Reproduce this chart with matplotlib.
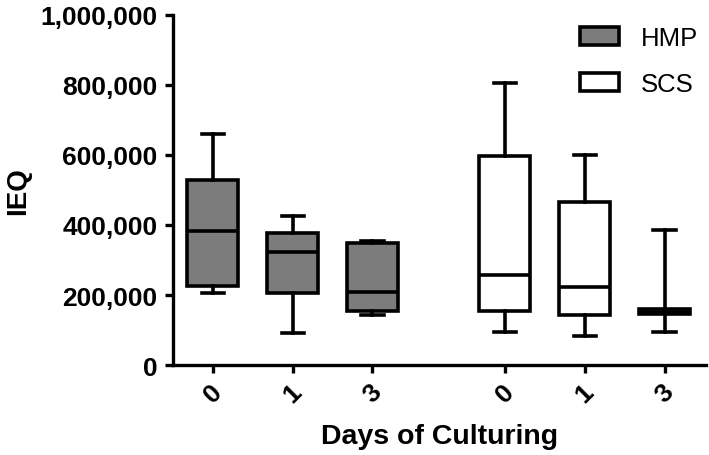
import matplotlib.pyplot as plt
from matplotlib.patches import Patch
from matplotlib.ticker import FuncFormatter

plt.rcParams['font.family'] = ['Liberation Sans', 'DejaVu Sans']

# box statistics (IEQ)
days = ['0', '1', '3']
groups = ['HMP', 'SCS']
hmp_lo = [206000, 91000, 143000]
hmp_q1 = [226000, 206000, 154000]
hmp_med = [383000, 323000, 209000]
hmp_q3 = [529000, 377000, 349000]
hmp_hi = [660000, 426000, 354000]

scs_lo = [94000, 83000, 94000]
scs_q1 = [154000, 143000, 145000]
scs_med = [257000, 223000, 152000]
scs_q3 = [597000, 466000, 160000]
scs_hi = [806000, 600000, 386000]

pos_hmp = [1, 2, 3]
pos_scs = [4.66, 5.66, 6.66]


def make_stats(lo, q1, med, q3, hi):
    return [dict(whislo=a, q1=b, med=c, q3=d, whishi=e, fliers=[])
            for a, b, c, d, e in zip(lo, q1, med, q3, hi)]


fig = plt.figure(figsize=(7.09, 4.56), dpi=100)
ax = fig.add_axes([173 / 709, 1 - 366 / 456, (706 - 173) / 709, 350 / 456])

lw = 2.6
common = dict(widths=0.64, capwidths=0.28, patch_artist=True, showfliers=False,
              whiskerprops=dict(color='black', linewidth=lw),
              capprops=dict(color='black', linewidth=lw),
              medianprops=dict(color='black', linewidth=lw))

ax.bxp(make_stats(hmp_lo, hmp_q1, hmp_med, hmp_q3, hmp_hi), positions=pos_hmp,
       boxprops=dict(facecolor='#7c7c7c', edgecolor='black', linewidth=lw), **common)
ax.bxp(make_stats(scs_lo, scs_q1, scs_med, scs_q3, scs_hi), positions=pos_scs,
       boxprops=dict(facecolor='white', edgecolor='black', linewidth=lw), **common)

ax.set_xlim(0.5, 7.18)
ax.set_ylim(0, 1000000)
ax.set_yticks(range(0, 1000001, 200000))
ax.yaxis.set_major_formatter(FuncFormatter(lambda v, p: f'{int(v):,}'))
ax.set_xticks(pos_hmp + pos_scs)
ax.set_xticklabels(days + days, rotation=45, ha='center', va='top')

for s in ['top', 'right']:
    ax.spines[s].set_visible(False)
for s in ['left', 'bottom']:
    ax.spines[s].set_linewidth(2.4)
ax.tick_params(axis='both', width=2.4, length=6, labelsize=19, pad=5)
ax.tick_params(axis='x', pad=4)
for lab in ax.get_xticklabels() + ax.get_yticklabels():
    lab.set_fontweight('bold')

ax.set_xlabel('Days of Culturing', fontsize=20.5, fontweight='bold', labelpad=12)
ax.set_ylabel('IEQ', fontsize=20, fontweight='bold', labelpad=7)

handles = [Patch(facecolor='#7c7c7c', edgecolor='black', linewidth=lw, label='HMP'),
           Patch(facecolor='white', edgecolor='black', linewidth=lw, label='SCS')]
fig.legend(handles=handles, loc='upper left', bbox_to_anchor=(580 / 709, 1 - 27 / 456),
           frameon=False, fontsize=18.5, handlelength=1.5, handleheight=0.72,
           handletextpad=0.85, labelspacing=0.85, borderpad=0, borderaxespad=0)

fig.savefig('out.png', dpi=100)
